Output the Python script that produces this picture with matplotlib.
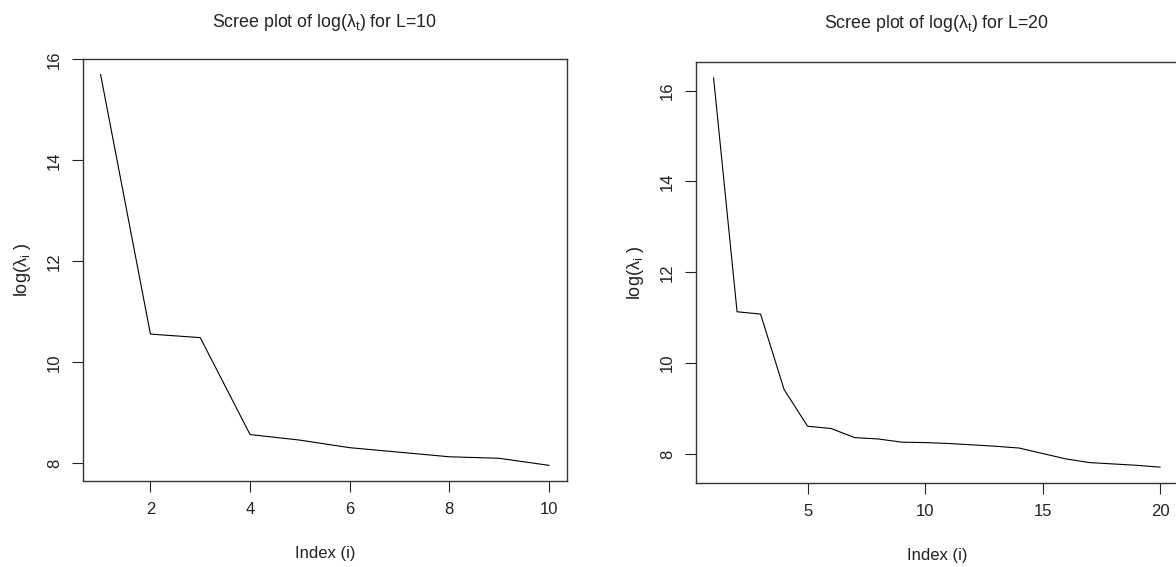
import matplotlib
matplotlib.use('Agg')
import matplotlib.pyplot as plt

# log eigenvalues
idx_10 = list(range(1, 11))
loglam_10 = [15.70, 10.56, 10.49, 8.57, 8.46, 8.31, 8.22, 8.13, 8.10, 7.96]

idx_20 = list(range(1, 21))
loglam_20 = [16.28, 11.13, 11.08, 9.42, 8.61, 8.56, 8.36, 8.33, 8.26, 8.25,
             8.23, 8.20, 8.17, 8.13, 8.01, 7.89, 7.81, 7.78, 7.75, 7.71]

xticks_10 = [2, 4, 6, 8, 10]
xticks_20 = [5, 10, 15, 20]
yticks = [8, 10, 12, 14, 16]

plt.rcParams['font.family'] = ['Liberation Sans', 'DejaVu Sans']
plt.rcParams['mathtext.fontset'] = 'custom'
plt.rcParams['mathtext.rm'] = 'Liberation Sans'
plt.rcParams['mathtext.it'] = 'Liberation Sans'


def r_limits(v, frac=0.04):
    """R style axis range: data range plus 4% on each side"""
    lo, hi = min(v), max(v)
    pad = (hi - lo) * frac
    return lo - pad, hi + pad


def scree(ax, x, y, xticks, L, title_pad):
    ax.plot(x, y, color='black', linewidth=0.8)
    ax.set_xlim(*r_limits(x))
    ax.set_ylim(*r_limits(y))
    ax.set_xticks(xticks)
    ax.set_yticks(yticks)
    ax.tick_params(direction='out', length=8, width=0.8, pad=7,
                   labelsize=12, colors='#222222')
    for lab in ax.get_yticklabels():
        lab.set_rotation(90)
        lab.set_va('center')
    for s in ax.spines.values():
        s.set_linewidth(1.0)
        s.set_color('#333333')
    ax.set_title(r'Scree plot of log($\lambda_{\mathrm{t}}$) for L=%d' % L,
                 fontsize=12.8, pad=title_pad, color='#222222')
    ax.set_xlabel('Index (i)', fontsize=12, labelpad=21, color='#222222')
    ax.set_ylabel(r'log($\lambda_{\mathrm{i}}$ )', fontsize=13, labelpad=10,
                  color='#222222')


fig = plt.figure(figsize=(11.76, 5.67), dpi=100)
ax1 = fig.add_axes([0.0703, 0.1517, 0.4118, 0.7443])
ax2 = fig.add_axes([0.5916, 0.1487, 0.4100, 0.7414])

scree(ax1, idx_10, loglam_10, xticks_10, 10, 23)
scree(ax2, idx_20, loglam_20, xticks_20, 20, 25)

fig.savefig('out.png', dpi=100)
